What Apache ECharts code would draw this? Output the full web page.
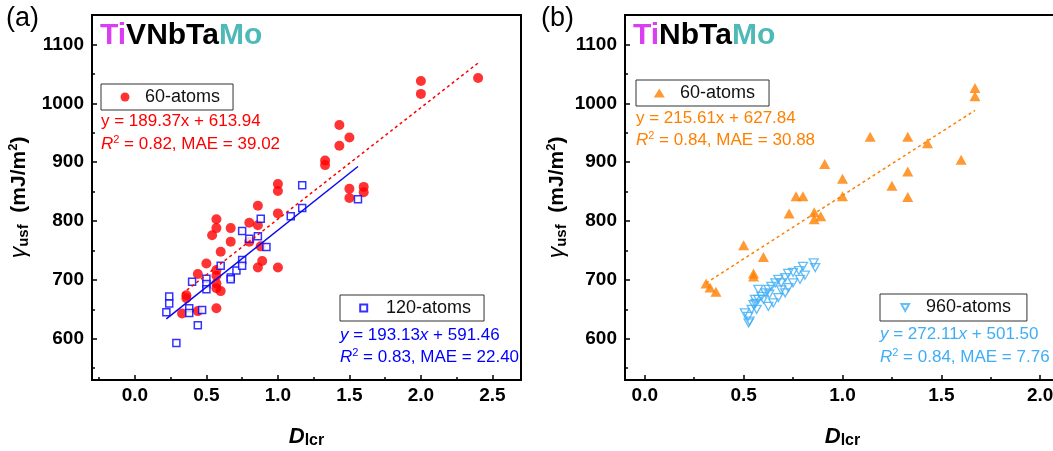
<!DOCTYPE html>
<html>
<head>
<meta charset="utf-8">
<title></title>
<script src="https://cdn.jsdelivr.net/npm/echarts@6/dist/echarts.min.js"></script>
<style>
	html, body { margin: 0; padding: 0; background: #fff; }
	#chart { width: 1053px; height: 451px; }
</style>
</head>
<body>
<div id="chart"></div>
<script>
// ---- data ----
// (a) TiVNbTaMo, 60-atoms  [Dlcr, gamma_usf]
var a60 = [
	[2.40, 1043], [2.00, 1038], [2.00, 1016], [1.43, 963], [1.43, 928], [1.50, 942],
	[1.33, 903], [1.33, 895], [1.50, 855], [1.50, 839], [1.60, 858], [1.60, 849],
	[1.00, 863], [1.00, 851], [1.00, 813], [1.00, 721], [0.86, 826], [0.86, 793],
	[0.86, 721], [0.89, 732], [0.88, 757], [0.80, 797], [0.80, 765], [0.67, 788],
	[0.67, 765], [0.60, 748], [0.57, 803], [0.57, 788], [0.54, 776], [0.50, 728],
	[0.57, 717], [0.57, 707], [0.57, 694], [0.57, 686], [0.60, 681], [0.57, 652],
	[0.44, 710], [0.36, 674], [0.36, 669], [0.33, 643], [0.44, 647]
];
// (a) 120-atoms
var a120 = [
	[0.22, 645], [0.24, 672], [0.24, 660], [0.29, 593], [0.38, 652], [0.38, 644],
	[0.40, 697], [0.44, 623], [0.47, 649], [0.50, 702], [0.50, 693], [0.50, 684],
	[0.60, 724], [0.67, 704], [0.67, 701], [0.71, 716], [0.75, 783], [0.75, 734],
	[0.75, 724], [0.80, 770], [0.86, 774], [0.88, 804], [0.92, 756], [1.09, 808],
	[1.17, 861], [1.17, 822], [1.56, 837]
];
// (b) TiNbTaMo, 60-atoms
var b60 = [
	[1.67, 1026], [1.67, 1012], [1.14, 943], [1.33, 943], [1.43, 932], [1.60, 904],
	[0.91, 897], [1.00, 872], [1.00, 842], [1.33, 884], [1.25, 860], [1.33, 841],
	[0.765, 842], [0.80, 842], [0.73, 813], [0.857, 815], [0.857, 803], [0.89, 808],
	[0.50, 759], [0.60, 739], [0.55, 711], [0.55, 706], [0.31, 694], [0.33, 687],
	[0.36, 680]
];
// (b) 960-atoms
var b960 = [
	[0.854, 729], [0.862, 721], [0.80, 723], [0.81, 708], [0.78, 716], [0.75, 713],
	[0.725, 711], [0.71, 704], [0.69, 695], [0.675, 701], [0.66, 695], [0.64, 689],
	[0.625, 684], [0.61, 678], [0.59, 672], [0.574, 667], [0.557, 667], [0.55, 658],
	[0.54, 650], [0.523, 638], [0.506, 644], [0.53, 630], [0.625, 655], [0.65, 661],
	[0.675, 670], [0.71, 678], [0.726, 687], [0.75, 695], [0.785, 701], [0.60, 667],
	[0.566, 650], [0.574, 684], [0.63, 676], [0.69, 683], [0.56, 660], [0.525, 627]
];
// fitted lines (end points)
var fitA60 = [[0.33, 676.4], [2.40, 1068.4]];
var fitA120 = [[0.22, 633.9], [1.56, 892.7]];
var fitB60 = [[0.31, 694.7], [1.67, 987.9]];

// ticks
var xMajorA = [0, 0.5, 1.0, 1.5, 2.0, 2.5];
var xMinorA = [-0.25, 0.25, 0.75, 1.25, 1.75, 2.25];
var xMajorB = [0, 0.5, 1.0, 1.5, 2.0];
var xMinorB = [0.25, 0.75, 1.25, 1.75];
var yMajor = [600, 700, 800, 900, 1000, 1100];
var yMinor = [550, 650, 750, 850, 950, 1050];

var legendText = { a60: '60-atoms', a120: '120-atoms', b60: '60-atoms', b960: '960-atoms' };

var FONT = "'Liberation Sans', Arial, Helvetica, sans-serif";
var RED = '#ff0000', BLUE = '#0000ff', ORANGE = '#ff8000', LBLUE = '#40aef5';

function xAxisPair(grid, min, max, major, minor, nameGap) {
	return [{
		type: 'value', gridIndex: grid, position: 'bottom', min: min, max: max,
		splitLine: { show: false },
		axisLine: { show: true, onZero: false, lineStyle: { color: '#000', width: 2 } },
		axisTick: { show: true, inside: true, length: 5, lineStyle: { color: '#000', width: 1.5 }, customValues: major },
		axisLabel: {
			customValues: major, margin: 6, color: '#000', fontSize: 19, fontWeight: 'bold', fontFamily: FONT,
			formatter: function (v) { return v.toFixed(1); }
		},
		name: '{d|D}{s|lcr}', nameLocation: 'middle', nameGap: nameGap,
		nameTextStyle: {
			rich: {
				d: { fontSize: 22, fontWeight: 'bold', fontStyle: 'italic', lineHeight: 24, color: '#000', fontFamily: FONT },
				s: { fontSize: 16, fontWeight: 'bold', lineHeight: 14, verticalAlign: 'bottom', color: '#000', fontFamily: FONT }
			}
		}
	}, {
		type: 'value', gridIndex: grid, position: 'bottom', min: min, max: max,
		splitLine: { show: false },
		axisLine: { show: false, onZero: false },
		axisLabel: { show: false },
		axisTick: { show: true, inside: true, length: 3, lineStyle: { color: '#000', width: 1.5 }, customValues: minor }
	}];
}

function yAxisPair(grid, nameGap) {
	return [{
		type: 'value', gridIndex: grid, position: 'left', min: 530, max: 1150,
		splitLine: { show: false },
		axisLine: { show: true, onZero: false, lineStyle: { color: '#000', width: 2 } },
		axisTick: { show: true, inside: true, length: 5, lineStyle: { color: '#000', width: 1.5 }, customValues: yMajor },
		axisLabel: {
			customValues: yMajor, margin: 8, color: '#000', fontSize: 19, fontWeight: 'bold', fontFamily: FONT,
			formatter: function (v) { return String(v); }
		},
		name: '{g|γ}{s|usf}{n|  (mJ/m}{p|2}{n|)}', nameLocation: 'middle', nameGap: nameGap, nameRotate: 90,
		nameTextStyle: {
			rich: {
				g: { fontSize: 23, fontStyle: 'italic', lineHeight: 24, color: '#000', fontFamily: FONT },
				s: { fontSize: 15, fontWeight: 'bold', lineHeight: 14, verticalAlign: 'bottom', color: '#000', fontFamily: FONT },
				n: { fontSize: 21, fontWeight: 'bold', lineHeight: 24, color: '#000', fontFamily: FONT },
				p: { fontSize: 13, fontWeight: 'bold', lineHeight: 12, verticalAlign: 'top', color: '#000', fontFamily: FONT }
			}
		}
	}, {
		type: 'value', gridIndex: grid, position: 'left', min: 530, max: 1150,
		splitLine: { show: false },
		axisLine: { show: false, onZero: false },
		axisLabel: { show: false },
		axisTick: { show: true, inside: true, length: 3, lineStyle: { color: '#000', width: 1.5 }, customValues: yMinor }
	}];
}

function legendBox(name, left, top, pad, iw, ih, textPad, icon) {
	var lg = {
		data: [name], left: left, top: top, orient: 'horizontal', selectedMode: false,
		borderColor: '#333', borderWidth: 1, padding: pad,
		itemWidth: iw, itemHeight: ih,
		formatter: function (n) { return '{t|' + legendText[n] + '}'; },
		textStyle: {
			rich: { t: { fontSize: 18, lineHeight: 18, color: '#111', fontFamily: FONT, padding: [0, 0, 0, textPad] } }
		}
	};
	if (icon) lg.icon = icon;
	return lg;
}

function txt(text, left, top, color, rich) {
	var base = { fontSize: 17, lineHeight: 20, color: color, fontFamily: FONT, fontWeight: 'normal' };
	var r = {
		n: base,
		i: { fontSize: 17, lineHeight: 20, color: color, fontFamily: FONT, fontStyle: 'italic' },
		p: { fontSize: 11, lineHeight: 12, color: color, fontFamily: FONT, verticalAlign: 'top' }
	};
	return {
		text: text, left: left, top: top, padding: 0, itemGap: 0,
		textStyle: { fontSize: 17, lineHeight: 20, color: color, fontFamily: FONT, fontWeight: 'normal', rich: rich ? r : undefined }
	};
}

function headline(parts, left, top) {
	return {
		text: '{ti|Ti}{k|' + parts + '}{mo|Mo}', left: left, top: top, padding: 0,
		textStyle: {
			rich: {
				ti: { fontSize: 30, fontWeight: 'bold', lineHeight: 30, color: '#d93ef2', fontFamily: FONT },
				k: { fontSize: 30, fontWeight: 'bold', lineHeight: 30, color: '#000', fontFamily: FONT },
				mo: { fontSize: 30, fontWeight: 'bold', lineHeight: 30, color: '#4dbab8', fontFamily: FONT }
			}
		}
	};
}

var chart = echarts.init(document.getElementById('chart'));
chart.setOption({
	animation: false,
	backgroundColor: '#fff',
	title: [
		{ text: '(a)', left: 6, top: 5, padding: 0, textStyle: { fontSize: 27, lineHeight: 27, fontWeight: 'normal', color: '#000', fontFamily: FONT } },
		{ text: '(b)', left: 541, top: 5, padding: 0, textStyle: { fontSize: 27, lineHeight: 27, fontWeight: 'normal', color: '#000', fontFamily: FONT } },
		headline('VNbTa', 100, 21),
		headline('NbTa', 633, 21),
		txt('y = 189.37x + 613.94', 101, 111, RED, false),
		txt('{i|R}{p|2}{n| = 0.82, MAE = 39.02}', 101, 134, RED, true),
		txt('{i|y}{n| = 193.13}{i|x}{n| + 591.46}', 340, 325, BLUE, true),
		txt('{i|R}{p|2}{n| = 0.83, MAE = 22.40}', 340, 347, BLUE, true),
		txt('y = 215.61x + 627.84', 636, 108, ORANGE, false),
		txt('{i|R}{p|2}{n| = 0.84, MAE = 30.88}', 636, 130, ORANGE, true),
		txt('{i|y}{n| = 272.11}{i|x}{n| + 501.50}', 880, 324, LBLUE, true),
		txt('{i|R}{p|2}{n| = 0.84, MAE = 7.76}', 880, 347, LBLUE, true)
	],
	legend: [
		legendBox('a60', 101, 84, [4, 13, 4, 19.5], 9, 9, 10.5),
		legendBox('a120', 340, 295, [4, 13, 4, 19.2], 7, 7, 13.8),
		legendBox('b60', 636, 80, [4, 14, 4, 17.8], 11, 9, 10.2),
		legendBox('b960', 880, 294, [4.5, 16, 4.5, 20.3], 8, 7, 11.7, 'path://M0,0 L10,0 L5,9 Z')
	],
	grid: [
		{ left: 92, top: 15, width: 429, height: 365, show: true, borderColor: '#000', borderWidth: 2, outerBoundsMode: 'none', containLabel: false },
		{ left: 625, top: 15, width: 435, height: 365, show: true, borderColor: '#000', borderWidth: 2, outerBoundsMode: 'none', containLabel: false }
	],
	xAxis: xAxisPair(0, -0.3, 2.7, xMajorA, xMinorA, 45).concat(xAxisPair(1, -0.1, 2.1, xMajorB, xMinorB, 45)),
	yAxis: yAxisPair(0, 61).concat(yAxisPair(1, 56)),
	series: [
		{
			name: 'a60', type: 'scatter', xAxisIndex: 0, yAxisIndex: 0, data: a60,
			symbol: 'circle', symbolSize: 10, itemStyle: { color: RED }, z: 2
		},
		{
			name: 'a120', type: 'scatter', xAxisIndex: 0, yAxisIndex: 0, data: a120,
			symbol: 'rect', symbolSize: 7, itemStyle: { color: '#fff', borderColor: BLUE, borderWidth: 1.5 }, z: 3
		},
		{
			type: 'line', xAxisIndex: 0, yAxisIndex: 0, data: fitA60, symbol: 'none', silent: true,
			lineStyle: { color: RED, width: 1.5, type: [3, 3] }, z: 4
		},
		{
			type: 'line', xAxisIndex: 0, yAxisIndex: 0, data: fitA120, symbol: 'none', silent: true,
			lineStyle: { color: '#0a0aee', width: 1.5 }, z: 4
		},
		{
			name: 'b60', type: 'scatter', xAxisIndex: 2, yAxisIndex: 2, data: b60,
			symbol: 'triangle', symbolSize: [11, 10], itemStyle: { color: ORANGE }, z: 2
		},
		{
			name: 'b960', type: 'scatter', xAxisIndex: 2, yAxisIndex: 2, data: b960,
			symbol: 'triangle', symbolRotate: 180, symbolSize: [9, 8],
			itemStyle: { color: 'rgba(255,255,255,0)', borderColor: LBLUE, borderWidth: 1.3 }, z: 3
		},
		{
			type: 'line', xAxisIndex: 2, yAxisIndex: 2, data: fitB60, symbol: 'none', silent: true,
			lineStyle: { color: ORANGE, width: 1.5, type: [3, 3] }, z: 4
		}
	]
});
</script>
</body>
</html>
